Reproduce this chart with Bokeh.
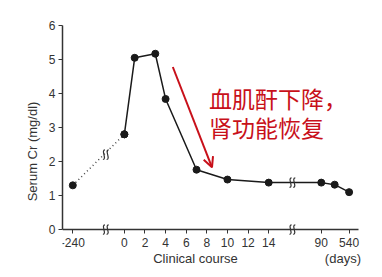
from bokeh.plotting import figure
from bokeh.models import Range1d, Label, Arrow, OpenHead, FixedTicker
from bokeh.embed import file_html
from bokeh.resources import INLINE

# positions on a broken x axis and their tick labels
tick_pos = [-5, 0, 2, 4, 6, 8, 10, 12, 14, 19.1, 21.8]
tick_labels = ["-240", "0", "2", "4", "6", "8", "10", "12", "14", "90", "540"]

# baseline (dotted segment)
base_x = [-5.0, 0.0]
base_y = [1.3, 2.8]

# clinical course (solid)
course_x = [0.0, 1.0, 3.0, 4.0, 7.0, 10.0, 14.0, 19.1, 20.4, 21.8]
course_y = [2.8, 5.05, 5.17, 3.84, 1.76, 1.47, 1.38, 1.38, 1.32, 1.10]

# axis-break marks (x position, y position)
break_x = [-1.8, -1.8, 16.3, 16.3]
break_y = [2.2, 0.0, 1.38, 0.0]

black = "#1a1a1a"
red = "#c8101a"
grey = "#333333"

p = figure(width=382, height=277, output_backend="svg", toolbar_location=None,
           x_range=Range1d(-6.0, 24.65), y_range=Range1d(-1.41, 6),
           min_border_left=62, min_border_right=4, min_border_top=25, min_border_bottom=0)
p.outline_line_color = None
p.xgrid.visible = False
p.ygrid.visible = False
p.background_fill_color = "white"
p.border_fill_color = "white"

p.line(base_x, base_y, line_color="#444444", line_width=1.5, line_dash="1 3")
p.line(course_x, course_y, line_color=black, line_width=1.5)
p.scatter(base_x + course_x, base_y + course_y, size=7, color=black)

# break marks: two small S-curves each
w, h = 0.2, 0.14
for bx, by in zip(break_x, break_y):
    for dx in (-0.18, 0.18):
        cx = bx + dx
        p.bezier(x0=[cx - w / 2], y0=[by - h], x1=[cx + w / 2], y1=[by + h],
                 cx0=[cx + w * 1.6], cy0=[by - h], cx1=[cx - w * 1.6], cy1=[by + h],
                 line_color=grey, line_width=1.2)

# y axis
ya = p.yaxis[0]
ya.bounds = (0, 6)
ya.ticker = FixedTicker(ticks=[0, 1, 2, 3, 4, 5, 6])
ya.minor_tick_line_color = None
ya.major_tick_out = 4
ya.major_tick_in = 0
ya.axis_line_color = grey
ya.axis_line_width = 1.5
ya.major_tick_line_color = grey
ya.major_label_text_font = "Liberation Sans"
ya.major_label_text_font_size = "12px"
ya.major_label_text_color = grey
ya.axis_label = "Serum Cr (mg/dl)"
ya.axis_label_text_font = "Liberation Sans"
ya.axis_label_text_font_style = "normal"
ya.axis_label_text_font_size = "13px"
ya.axis_label_text_color = grey
ya.axis_label_standoff = 6
ya.major_label_standoff = 3

# x axis, drawn at y = 0 inside the frame
xa = p.xaxis[0]
xa.fixed_location = 0
xa.bounds = (-6.0, 22.7)
xa.ticker = FixedTicker(ticks=tick_pos)
xa.major_label_overrides = {t: l for t, l in zip(tick_pos, tick_labels)}
xa.minor_tick_line_color = None
xa.major_tick_out = 4
xa.major_tick_in = 0
xa.axis_line_color = grey
xa.axis_line_width = 1.5
xa.major_tick_line_color = grey
xa.major_label_text_font = "Liberation Sans"
xa.major_label_text_font_size = "12px"
xa.major_label_text_color = grey
xa.major_label_standoff = 4

# axis texts
p.add_layout(Label(x=6.9, y=-0.86, text="Clinical course", text_align="center",
                   text_baseline="middle", text_font="Liberation Sans",
                   text_font_size="13px", text_color=grey))
p.add_layout(Label(x=21.2, y=-0.86, text="(days)", text_align="center",
                   text_baseline="middle", text_font="Liberation Sans",
                   text_font_size="13px", text_color=grey))

# annotation arrow and text
p.add_layout(Arrow(x_start=4.7, y_start=4.78, x_end=8.5, y_end=1.83,
                   line_color=red, line_width=2,
                   end=OpenHead(size=10, line_color=red, line_width=2)))
p.add_layout(Label(x=8.2, y=3.88, text="血肌酐下降，", text_align="left",
                   text_baseline="middle", text_font="Noto Sans CJK SC",
                   text_font_size="23px", text_color=red))
p.add_layout(Label(x=8.2, y=3.02, text="肾功能恢复", text_align="left",
                   text_baseline="middle", text_font="Noto Sans CJK SC",
                   text_font_size="23px", text_color=red))

open("out.html", "w").write(file_html(p, INLINE))
